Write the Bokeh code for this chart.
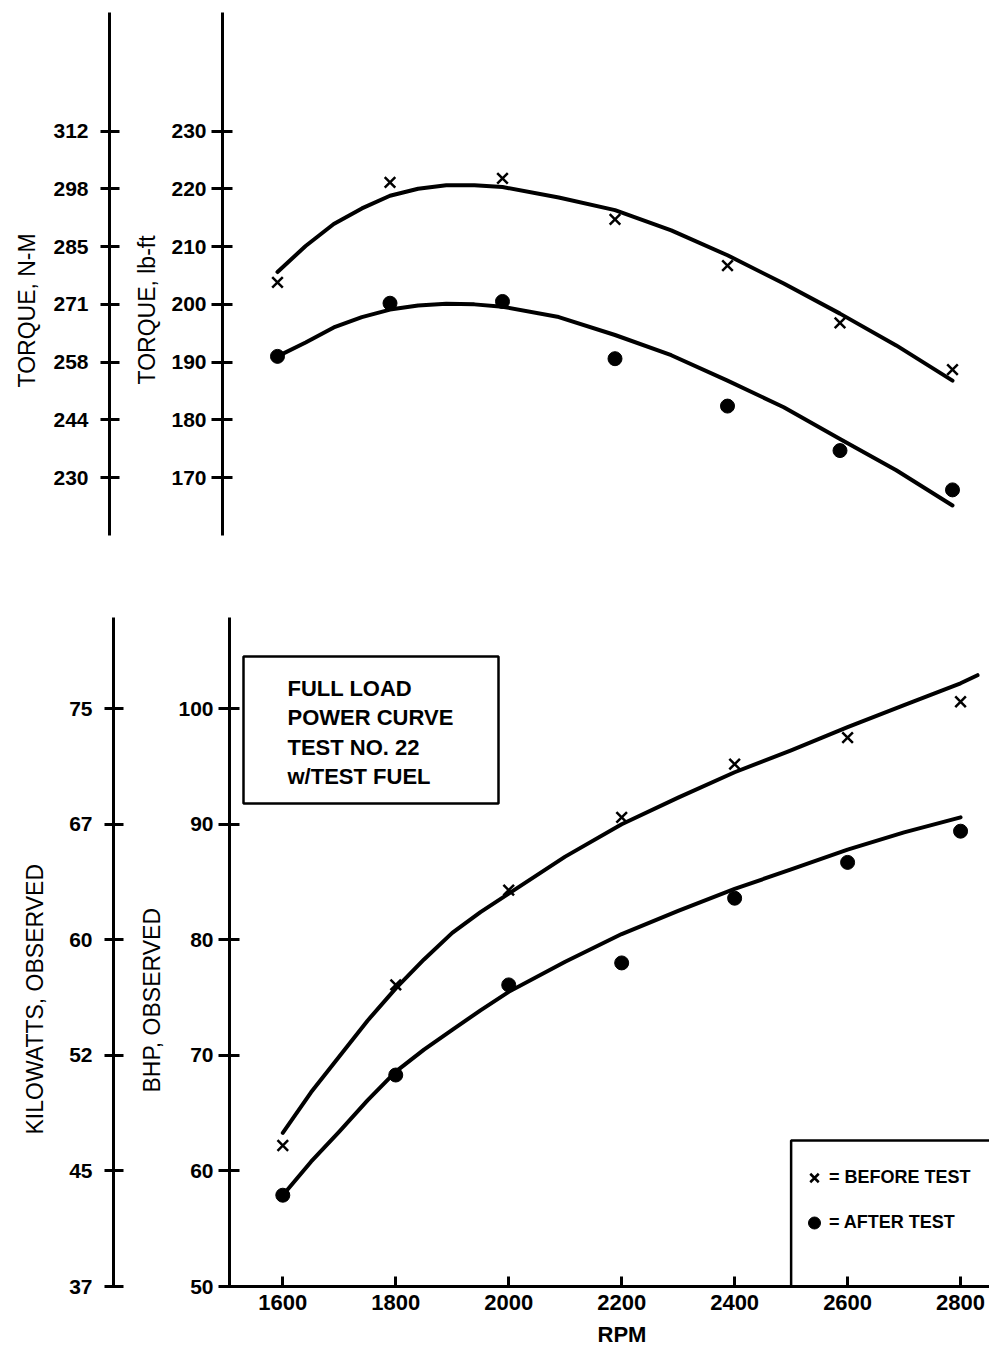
from bokeh.plotting import figure
from bokeh.models import (Range1d, FixedTicker, Label, BoxAnnotation, Title,
                          Legend, LegendItem)
from bokeh.layouts import row, column
from bokeh.embed import file_html
from bokeh.resources import INLINE

# ---------------- data ----------------
rpm = [1600, 1800, 2000, 2200, 2400, 2600, 2800]
torque_before = [203.8, 221.1, 221.8, 214.7, 206.7, 196.8, 188.7]
torque_after = [191.0, 200.2, 200.5, 190.6, 182.4, 174.7, 167.9]
bhp_before = [62.2, 76.1, 84.3, 90.6, 95.2, 97.5, 100.6]
bhp_after = [57.9, 68.3, 76.1, 78.0, 83.6, 86.7, 89.4]

# hand-drawn fitted curves
fit_rpm = [1600, 1650, 1700, 1750, 1800, 1850, 1900, 1950, 2000,
           2100, 2200, 2300, 2400, 2500, 2600, 2700, 2800]
torque_before_fit = [205.6, 210.1, 213.9, 216.6, 218.8, 220.0, 220.6, 220.6, 220.3,
                     218.5, 216.3, 212.8, 208.5, 203.6, 198.4, 192.9, 186.8]
torque_after_fit = [191.0, 193.4, 196.0, 197.8, 199.1, 199.8, 200.1, 200.0, 199.6,
                    197.8, 194.7, 191.2, 186.8, 182.2, 176.7, 171.3, 165.2]
bhp_before_fit_rpm = fit_rpm + [2830]
bhp_before_fit = [63.3, 66.8, 69.9, 73.0, 75.8, 78.3, 80.6, 82.4, 84.0,
                  87.2, 90.0, 92.3, 94.5, 96.4, 98.4, 100.3, 102.2, 102.9]
bhp_after_fit = [57.9, 60.8, 63.4, 66.1, 68.6, 70.5, 72.2, 73.9, 75.5,
                 78.1, 80.5, 82.5, 84.4, 86.1, 87.8, 89.3, 90.6]

lbft_ticks = [170, 180, 190, 200, 210, 220, 230]
nm_labels = ["230", "244", "258", "271", "285", "298", "312"]
bhp_ticks = [50, 60, 70, 80, 90, 100]
kw_labels = ["37", "45", "52", "60", "67", "75"]
rpm_ticks = [1600, 1800, 2000, 2200, 2400, 2600, 2800]

box_lines = ["FULL LOAD", "POWER CURVE", "TEST NO. 22", "w/TEST FUEL"]
legend_labels = ["= BEFORE TEST", "= AFTER TEST"]

# ---------------- layout / style ----------------
FONT = "Liberation Sans"
W = 989

# top panel geometry (page pixels)
T_FL, T_FR, T_FT, T_FB = 222, W, 12, 535
T_SX = 0.5625          # px per rpm
T_X1600 = 277
T_SY = 5.779           # px per lb-ft
T_Y230 = 130.5
top_x = Range1d(1600 - (T_X1600 - T_FL) / T_SX, 1600 + (T_FR - T_X1600) / T_SX)
top_y = Range1d(230 - (T_FB - T_Y230) / T_SY, 230 + (T_Y230 - T_FT) / T_SY)

# bottom panel geometry (page pixels)
B_FL, B_FR, B_FT, B_FB = 229, W, 617, 1286
B_SX = 0.5648
B_X1600 = 282.3
B_SY = 11.556
bot_x = Range1d(1600 - (B_X1600 - B_FL) / B_SX, 1600 + (B_FR - B_X1600) / B_SX)
bot_y = Range1d(50, 50 + (B_FB - B_FT) / B_SY)


def bx(px):
    return bot_x.start + (px - B_FL) / B_SX


def by(py):
    return bot_y.end - (py - B_FT) / B_SY


TOP_H = 576
BOT_H = 784


def base_fig(width, height, xr, yr, left, top, bottom, xloc=None):
    p = figure(width=width, height=height, x_range=xr, y_range=yr,
               output_backend="svg", toolbar_location=None,
               x_axis_location=xloc, y_axis_location="left",
               min_border_left=left, min_border_right=0,
               min_border_top=top, min_border_bottom=bottom)
    p.outline_line_color = None
    p.xgrid.visible = False
    p.ygrid.visible = False
    p.background_fill_color = "white"
    p.border_fill_color = "white"
    return p


def style_yaxis(ax, ticks, labels, tick_out, standoff, size="21px"):
    ax.ticker = FixedTicker(ticks=ticks)
    ax.axis_line_width = 3
    ax.axis_line_color = "black"
    ax.major_tick_line_width = 3
    ax.major_tick_line_color = "black"
    ax.major_tick_in = 10
    ax.major_tick_out = tick_out
    ax.minor_tick_line_color = None
    ax.major_label_text_font = FONT
    ax.major_label_text_font_style = "bold"
    ax.major_label_text_font_size = size
    ax.major_label_text_color = "black"
    ax.major_label_standoff = standoff
    if labels is not None:
        ax.major_label_overrides = {t: l for t, l in zip(ticks, labels)}


def side_title(text, offset, standoff, size="23px", style="normal"):
    return Title(text=text, align="left", offset=offset, standoff=standoff,
                 vertical_align="bottom", text_font=FONT, text_font_size=size,
                 text_font_style=style, text_color="black")


# ---------- top outer axis (N-M) ----------
p_to = base_fig(122, TOP_H, Range1d(0, 1), top_y, 109, T_FT, TOP_H - T_FB)
style_yaxis(p_to.yaxis[0], lbft_ticks, nm_labels, 9, 12)
p_to.add_layout(side_title("TORQUE, N-M", 148, 22), "left")

# ---------- top main (lb-ft) ----------
p_t = base_fig(W - 122, TOP_H, top_x, top_y, T_FL - 122, T_FT, TOP_H - T_FB)
style_yaxis(p_t.yaxis[0], lbft_ticks, None, 11, 5)
p_t.add_layout(side_title("TORQUE, lb-ft", 151, 18), "left")

p_t.line(fit_rpm, torque_before_fit, line_color="black", line_width=4,
         line_join="round", line_cap="round")
p_t.line(fit_rpm, torque_after_fit, line_color="black", line_width=4,
         line_join="round", line_cap="round")
p_t.scatter(rpm, torque_before, marker="x", size=15, line_color="black", line_width=2.5)
p_t.scatter(rpm, torque_after, marker="circle", size=14, fill_color="black", line_color="black")

# ---------- bottom outer axis (kW) ----------
p_bo = base_fig(125, BOT_H, Range1d(0, 1), bot_y, 113, B_FT - TOP_H, TOP_H + BOT_H - B_FB)
style_yaxis(p_bo.yaxis[0], bhp_ticks, kw_labels, 9, 12)
p_bo.add_layout(side_title("KILOWATTS, OBSERVED", 152, 37), "left")

# ---------- bottom main (BHP) ----------
p_b = base_fig(W - 125, BOT_H, bot_x, bot_y, B_FL - 125, B_FT - TOP_H,
               TOP_H + BOT_H - B_FB, xloc="below")
style_yaxis(p_b.yaxis[0], bhp_ticks, None, 11, 5)
p_b.add_layout(side_title("BHP, OBSERVED", 194, 22), "left")

xa = p_b.xaxis[0]
xa.ticker = FixedTicker(ticks=rpm_ticks)
xa.axis_line_width = 3
xa.axis_line_color = "black"
xa.major_tick_line_width = 3
xa.major_tick_line_color = "black"
xa.major_tick_in = 10
xa.major_tick_out = 0
xa.minor_tick_line_color = None
xa.major_label_text_font = FONT
xa.major_label_text_font_style = "bold"
xa.major_label_text_font_size = "22px"
xa.major_label_text_color = "black"
xa.major_label_standoff = 8
p_b.add_layout(side_title("RPM", 368, 14, size="22px", style="bold"), "below")

p_b.line(fit_rpm, bhp_after_fit, line_color="black", line_width=4,
         line_join="round", line_cap="round")
p_b.line(bhp_before_fit_rpm, bhp_before_fit, line_color="black", line_width=4,
         line_join="round", line_cap="round")
r_before = p_b.scatter(rpm, bhp_before, marker="x", size=15, line_color="black", line_width=2.5)
r_after = p_b.scatter(rpm, bhp_after, marker="circle", size=14, fill_color="black", line_color="black")

# text box
p_b.add_layout(BoxAnnotation(left=bx(243), right=bx(498), top=by(656), bottom=by(803),
                             fill_alpha=0, line_color="black", line_alpha=1, line_width=2.5))
p_b.add_layout(Label(x=bx(287), y=by(675), text="\n".join(box_lines),
                     text_align="left", text_baseline="top", text_font=FONT,
                     text_font_style="bold", text_font_size="22px",
                     text_line_height=1.18, text_color="black"))

# legend box (runs off the right edge like the reference)
p_b.add_layout(BoxAnnotation(left=2500, right=bx(1040), top=by(1140), bottom=50,
                             fill_alpha=0, line_color="black", line_alpha=1, line_width=2.5))
legend = Legend(items=[LegendItem(label=legend_labels[0], renderers=[r_before]),
                       LegendItem(label=legend_labels[1], renderers=[r_after])],
                location=(570, 46), orientation="vertical")
legend.border_line_color = None
legend.background_fill_alpha = 0
legend.label_text_font = FONT
legend.label_text_font_style = "bold"
legend.label_text_font_size = "18px"
legend.label_text_color = "black"
legend.glyph_width = 30
legend.glyph_height = 35
legend.label_height = 35
legend.label_standoff = 0
legend.spacing = 10
legend.padding = 4
legend.margin = 0
p_b.add_layout(legend)

layout = column(row(p_to, p_t), row(p_bo, p_b))

with open("out.html", "w") as f:
    f.write(file_html(layout, INLINE))
